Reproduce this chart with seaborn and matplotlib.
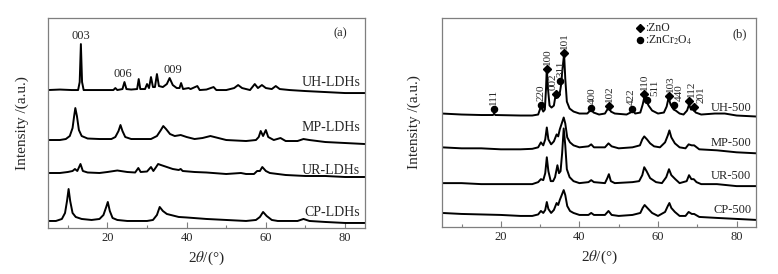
import numpy as np
import pandas as pd
import matplotlib
matplotlib.use("Agg")
import matplotlib.pyplot as plt
import seaborn as sns
from matplotlib.ticker import MultipleLocator

# ---- data: (2theta, intensity above own baseline) ----
ldh_names = ["UH-LDHs", "MP-LDHs", "UR-LDHs", "CP-LDHs"]
ldh_offsets = [138, 88, 55, 7]

uh_ldh = [(5, 0), (8, 0.5), (11, 0), (12.6, 0), (13.0, 8), (13.3, 46), (13.6, 8), (14.0, 0),
          (18, 0), (21.5, 0), (22, 2), (22.5, 0), (23.8, 1), (24.3, 8), (24.8, 1), (26, 0.5),
          (27.5, 1), (27.9, 11), (28.3, 1), (29.5, 1), (30, 6), (30.5, 2), (31, 13), (31.5, 3),
          (32, 3), (32.5, 16), (33, 4), (34, 3), (35, 6), (35.7, 12), (36.5, 5), (37.5, 2),
          (38.2, 2), (38.6, 7), (39.1, 1), (40.5, 2), (41, 1), (42.7, 4), (43.3, 0), (45, 0.5),
          (46.8, 3), (47.5, 0), (50, 0), (52, 2), (53, 5), (54, 2), (56, 0), (57.2, 6), (58, 2),
          (59, 5), (60, 2), (61.5, 1), (62.5, 4), (63.5, 1), (66, 0), (70, -1), (75, -2),
          (80, -3), (85, -3)]
mp_ldh = [(5, 0), (8, 0), (9.5, 1), (10.5, 4), (11.2, 12), (11.6, 24), (11.9, 32), (12.3, 24),
          (12.8, 10), (13.5, 4), (15, 1.5), (18, 1), (21, 1), (22, 3), (22.8, 9), (23.3, 15),
          (23.8, 9), (24.5, 3), (26, 1), (29, 1), (31, 1), (32.5, 4), (33.5, 10), (34.1, 14),
          (34.8, 11), (35.8, 6), (37, 4), (38.5, 5), (40, 3), (42, 1), (44, 2), (46, 4), (48, 2),
          (50, 0), (55, -1), (57.5, 0), (58.2, 3), (58.7, 9), (59.3, 4), (60, 10), (60.6, 3),
          (62, 0), (63.7, 2), (65, -1), (68, -1), (69.5, 1), (71, 0), (75, -2), (80, -3), (85, -4)]
ur_ldh = [(5, 0), (8, 0), (10, 1), (11.2, 2), (11.8, 4), (12.4, 2), (13.2, 9), (13.8, 2),
          (15, 0.5), (18, 0), (20, 1), (22.5, 2.5), (25, 1), (27, 0.5), (27.8, 5), (28.4, 1),
          (30, 1.5), (31, 6), (31.6, 2), (32.3, 6), (32.8, 9), (33.5, 8), (35, 6), (36.5, 4),
          (38, 3), (38.5, 4), (39, 2), (42, 1), (45, 0.5), (50, -1), (53.7, 0), (55, -1), (57, -1),
          (57.8, 2), (58.5, 2), (59.1, 6), (60, 2), (61, 0), (65, -2), (70, -3), (75, -3),
          (80, -4), (85, -4)]
cp_ldh = [(5, 0), (7, 0), (8.5, 2), (9.3, 8), (9.8, 20), (10.2, 32), (10.6, 20), (11.2, 8),
          (12, 4), (13.5, 2), (16, 1), (18, 2), (19, 6), (19.7, 14), (20.1, 19), (20.6, 10),
          (21.3, 3), (22.5, 1), (25, 0), (28, 0), (30, 0), (31.5, 1), (32.5, 6), (33.2, 14),
          (34, 10), (35, 7), (36, 6), (38, 4), (40, 3.5), (45, 2), (50, 1), (55, 0), (57.5, 1),
          (58.5, 4), (59.3, 9), (60.2, 5), (61.5, 1), (63, 0), (68, 0), (69.5, 2), (71, 0),
          (75, -1), (80, -2), (85, -2)]

cal_names = ["UH-500", "MP-500", "UR-500", "CP-500"]
cal_offsets = [114, 80, 44, 14]

uh_500 = [(5, 0), (10, -1), (15, -1.5), (18, -1.5), (18.3, 0), (18.6, -1.5), (25, -2), (28, -2),
          (29.5, -1), (30.2, 7), (30.8, 2), (31.2, 4), (31.5, 25), (31.7, 46), (32.0, 25),
          (32.4, 8), (32.9, 6), (33.5, 8), (34.0, 20), (34.2, 22), (34.5, 16), (34.9, 18),
          (35.3, 28), (35.7, 45), (36.1, 60), (36.4, 35), (36.8, 12), (37.5, 5), (38.5, 2),
          (40, 0), (42, 0), (42.5, 2), (43, 4), (43.6, 1), (45, -1), (46.5, 0), (47.1, 4),
          (47.5, 7), (48, 2), (49, 0), (52, -1), (53, 1), (53.6, 3), (54.2, 0), (55.5, 1),
          (56.1, 9), (56.5, 16), (57, 13), (57.6, 8), (58.5, 3), (60, 0), (61.5, 1), (62.2, 7),
          (62.7, 16), (63.2, 9), (64, 4), (64.5, 3), (65.5, 0), (66.5, -1), (67.4, 3), (67.9, 9),
          (68.4, 4), (69, 4), (69.6, 1), (71, -1), (74.5, 0), (77, 0), (80, -2), (85, -3)]
mp_500 = [(5, 0), (10, -1), (15, -1), (20, -2), (25, -2), (28, -1.5), (29.5, 0), (30.2, 5),
          (30.8, 2), (31.3, 8), (31.7, 20), (32.1, 8), (32.8, 3), (33.5, 6), (34.2, 13),
          (34.6, 11), (35.0, 18), (35.5, 24), (36.0, 30), (36.4, 24), (36.9, 10), (37.6, 5),
          (38.5, 2), (40, 0), (42.3, 1), (43, 3), (43.7, 0), (46.5, 0), (47.4, 4), (48.2, 1),
          (50, -1), (53.5, 0), (55.4, 2), (56.0, 8), (56.5, 11), (57.2, 8), (58, 4), (59, 1),
          (60.5, 0), (61.8, 5), (62.5, 12), (62.9, 17), (63.4, 10), (64.3, 4), (65.5, 0),
          (67, -1), (67.8, 3), (68.6, 2), (69.2, 2), (70.5, -2), (75, -3), (80, -5), (85, -6)]
ur_500 = [(5, 0), (10, 0), (15, -1), (20, -1), (25, -1), (28, -1), (29.5, 1), (30.2, 4),
          (30.8, 3), (31.3, 10), (31.7, 26), (32.1, 12), (32.7, 2), (33.3, 2), (33.8, 6),
          (34.4, 18), (34.8, 10), (35.2, 12), (35.6, 30), (36.0, 55), (36.4, 38), (36.8, 14),
          (37.5, 6), (38.5, 2), (40, 0), (42.3, 1), (43, 3), (43.7, 1), (46.5, 0), (47.1, 5),
          (47.5, 9), (48, 2), (49, 0), (53.5, 1), (55.2, 2), (56.0, 8), (56.5, 16), (57.1, 12),
          (58, 5), (59.5, 1), (61, 0), (62.1, 6), (62.8, 14), (63.4, 8), (64.4, 4), (65.5, 0),
          (67.3, 2), (67.9, 8), (68.5, 4), (69.1, 4), (69.8, 1), (71, -1), (75, -1), (80, -3),
          (85, -3)]
cp_500 = [(5, 0), (10, -1), (15, -1.5), (20, -2), (25, -3), (28, -3), (29.5, -1.5), (30.2, 2),
          (30.8, 0), (31.3, 3), (31.7, 11), (32.1, 4), (32.8, 0), (33.5, 3), (34.2, 10),
          (34.6, 8), (35.0, 13), (35.5, 18), (36.0, 23), (36.4, 18), (36.9, 7), (37.6, 2),
          (38.5, 0), (40, -2), (42.3, -2), (43, 0), (43.7, -2), (46.5, -2), (47.4, 2),
          (48.2, -2), (50, -3), (53.5, -2), (55.5, 0), (56.1, 5), (56.6, 8), (57.3, 5),
          (58.5, 0), (60, -3), (61.8, 1), (62.5, 7), (62.9, 10), (63.4, 5), (64.3, 1),
          (65.5, -3), (67, -3), (67.8, 1), (68.6, -1), (69.2, -1), (70.5, -4), (75, -5),
          (80, -6), (85, -7)]

# reflection marks above UH-500
refl_pos = [18.2, 30.2, 31.7, 34.0, 35.0, 36.1, 42.9, 47.5, 53.3, 56.4, 57.3, 62.7, 64.0, 67.8, 69.1]
refl_y = [119, 123, 159, 134, 147, 175, 120, 122, 119, 134, 128, 132, 123, 127, 121]
refl_hkl = ["111", "220", "100", "002", "311", "101", "400", "102", "422", "110", "511",
            "103", "440", "112", "201"]
refl_phase = ["s", "s", "z", "z", "s", "z", "s", "z", "s", "z", "s", "z", "s", "z", "z"]
refl_dx = [0, 0, 0.2, -0.6, 0.4, 0, 0.3, 0.2, 0, 0.2, 2.0, 0.4, 1.4, 0.6, 1.8]

# ---- style ----
sns.set_theme(style="white")
plt.rcParams["font.family"] = ["Liberation Serif", "DejaVu Serif"]
plt.rcParams["mathtext.fontset"] = "stix"
SPINE = "#7f7f7f"


def to_frame(points, offset):
    df = pd.DataFrame(points, columns=["two_theta", "intensity"])
    df["intensity"] = df["intensity"] + offset
    return df


def style_axes(ax, ypad):
    ax.set_xlim(5, 85)
    ax.set_ylim(0, 210)
    ax.xaxis.set_major_locator(MultipleLocator(20))
    ax.xaxis.set_minor_locator(MultipleLocator(10))
    ax.set_yticks([])
    ax.tick_params(axis="x", which="major", direction="in", length=4, width=0.8,
                   color=SPINE, labelsize=9, pad=3, bottom=True)
    ax.tick_params(axis="x", which="minor", direction="in", length=2.5, width=0.8,
                   color=SPINE, bottom=True)
    for s in ax.spines.values():
        s.set_color(SPINE)
        s.set_linewidth(0.9)
    ax.set_xlabel(r"2$\it{\theta}$/(°)", fontsize=11, labelpad=4)
    ax.set_ylabel("Intensity /(a.u.)", fontsize=11, labelpad=ypad)


fig = plt.figure(figsize=(7.78, 2.74), dpi=100)
ax1 = fig.add_axes([0.0617, 0.168, 0.4073, 0.766])
ax2 = fig.add_axes([0.568, 0.172, 0.404, 0.762])

# panel (a)
for name, pts, off, ty in zip(ldh_names, [uh_ldh, mp_ldh, ur_ldh, cp_ldh], ldh_offsets,
                              [146, 101, 58, 15]):
    sns.lineplot(data=to_frame(pts, off), x="two_theta", y="intensity", ax=ax1,
                 color="black", lw=1.4, sort=False, estimator=None)
    ax1.text(83.8, ty, name, ha="right", va="center", fontsize=10)
ax1.text(78.7, 195, "(a)", ha="center", va="center", fontsize=9)
ax1.text(13.3, 186, "003", ha="center", va="bottom", fontsize=9)
ax1.text(24.0, 148, "006", ha="center", va="bottom", fontsize=9)
ax1.text(36.6, 152, "009", ha="center", va="bottom", fontsize=9)
style_axes(ax1, 14)

# panel (b)
for name, pts, off, ty in zip(cal_names, [uh_500, mp_500, ur_500, cp_500], cal_offsets,
                              [120, 84, 51, 17]):
    sns.lineplot(data=to_frame(pts, off), x="two_theta", y="intensity", ax=ax2,
                 color="black", lw=1.4, sort=False, estimator=None)
    ax2.text(83.8, ty, name, ha="right", va="center", fontsize=9)
ax2.text(80.7, 194, "(b)", ha="center", va="center", fontsize=9)

for x, y, hkl, ph, dx in zip(refl_pos, refl_y, refl_hkl, refl_phase, refl_dx):
    mk = "D" if ph == "z" else "o"
    ms = 3.8 if ph == "z" else 4.4
    ax2.plot(x, y, marker=mk, color="black", ms=ms, ls="none")
    ax2.text(x + dx, y + 4, hkl, rotation=90, ha="center", va="bottom", fontsize=8)

ax2.plot(55.3, 200, marker="D", color="black", ms=3.8, ls="none")
ax2.text(56.8, 200, ":ZnO", ha="left", va="center", fontsize=8.5)
ax2.plot(55.3, 188, marker="o", color="black", ms=4.4, ls="none")
ax2.text(56.8, 188, r":ZnCr$_2$O$_4$", ha="left", va="center", fontsize=8.5)
style_axes(ax2, 15)

fig.savefig("out.png", dpi=100)
